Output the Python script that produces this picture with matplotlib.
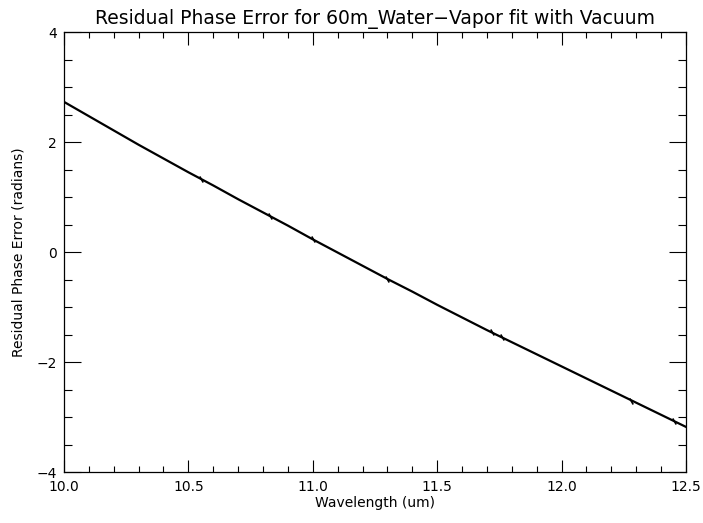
import numpy as np
import matplotlib
matplotlib.use("Agg")
import matplotlib.pyplot as plt
from matplotlib.ticker import MultipleLocator

# residual phase error, every 0.1 um
wavelength = [10.0, 10.1, 10.2, 10.3, 10.4, 10.5, 10.6, 10.7, 10.8, 10.9,
              11.0, 11.1, 11.2, 11.3, 11.4, 11.5, 11.6, 11.7, 11.8, 11.9,
              12.0, 12.1, 12.2, 12.3, 12.4, 12.5]
phase_err = [2.73, 2.47, 2.21, 1.95, 1.70, 1.45, 1.21, 0.96, 0.72, 0.48,
             0.23, -0.01, -0.25, -0.49, -0.72, -0.96, -1.19, -1.42, -1.64, -1.86,
             -2.08, -2.30, -2.52, -2.74, -2.96, -3.18]

# small glitches sitting on the curve
glitch_wl = [10.55, 10.83, 11.0, 11.3, 11.72, 11.76, 12.28, 12.45]
glitch_err = [1.33, 0.65, 0.23, -0.49, -1.46, -1.55, -2.70, -3.07]

fig = plt.figure(figsize=(7.03, 5.23), dpi=100)
ax = fig.add_axes([0.0910, 0.0975, 0.8848, 0.8413])

ax.plot(wavelength, phase_err, color='black', lw=1.6)
ax.plot(glitch_wl, glitch_err, ls='none', marker=(2, 0, 30), ms=5,
        mec='black', mew=1.2)

ax.set_xlim(10.0, 12.5)
ax.set_ylim(-4, 4)
ax.xaxis.set_major_locator(MultipleLocator(0.5))
ax.xaxis.set_minor_locator(MultipleLocator(0.1))
ax.yaxis.set_major_locator(MultipleLocator(2))
ax.yaxis.set_minor_locator(MultipleLocator(0.5))
ax.xaxis.set_major_formatter(plt.FormatStrFormatter('%.1f'))
ax.yaxis.set_major_formatter(plt.FuncFormatter(
    lambda v, p: ('%d' % v).replace('-', '\u2212')))

ax.tick_params(axis='x', which='major', direction='in', length=9, width=0.8,
               top=True, labelsize=10, pad=6)
ax.tick_params(axis='x', which='minor', direction='in', length=4, width=0.8, top=True)
ax.tick_params(axis='y', which='major', direction='in', length=12, width=0.8,
               right=True, labelsize=10, pad=5)
ax.tick_params(axis='y', which='minor', direction='in', length=6, width=0.8, right=True)
for s in ax.spines.values():
    s.set_linewidth(0.9)

ax.set_xlabel('Wavelength (um)', fontsize=10, labelpad=1)
ax.set_ylabel('Residual Phase Error (radians)', fontsize=10, labelpad=8)
ax.set_title('Residual Phase Error for 60m_Water\u2212Vapor fit with Vacuum',
             fontsize=13.5, pad=6)

fig.savefig('out.png', dpi=100)
